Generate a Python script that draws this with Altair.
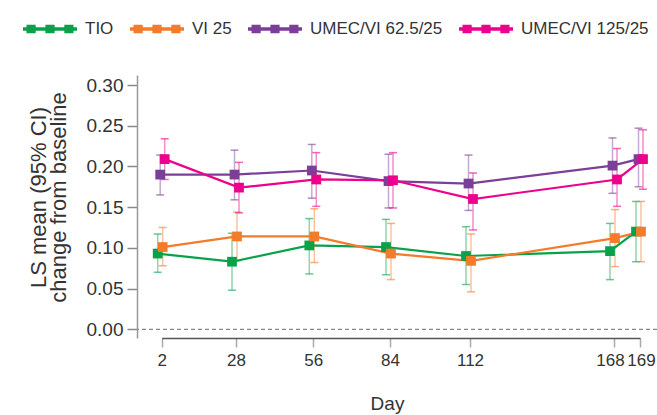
import altair as alt
import pandas as pd

# Visit days and treatment arms
days = [2, 28, 56, 84, 112, 168, 169]
series = ["TIO", "VI 25", "UMEC/VI 62.5/25", "UMEC/VI 125/25"]
colors = ["#0ba14b", "#f47b2a", "#7c3f98", "#ec008c"]

# LS mean change from baseline with 95% CI bounds, one list per arm
tio_mean = [0.093, 0.083, 0.103, 0.101, 0.090, 0.096, 0.120]
tio_lo = [0.070, 0.048, 0.068, 0.067, 0.055, 0.061, 0.083]
tio_hi = [0.117, 0.118, 0.136, 0.135, 0.126, 0.130, 0.157]

vi_mean = [0.101, 0.114, 0.114, 0.093, 0.084, 0.112, 0.120]
vi_lo = [0.078, 0.084, 0.082, 0.061, 0.046, 0.077, 0.083]
vi_hi = [0.125, 0.144, 0.148, 0.130, 0.117, 0.147, 0.157]

u62_mean = [0.190, 0.190, 0.195, 0.182, 0.179, 0.201, 0.209]
u62_lo = [0.165, 0.159, 0.161, 0.149, 0.146, 0.167, 0.175]
u62_hi = [0.214, 0.220, 0.227, 0.215, 0.214, 0.235, 0.247]

u125_mean = [0.209, 0.174, 0.184, 0.183, 0.160, 0.184, 0.209]
u125_lo = [0.184, 0.143, 0.151, 0.149, 0.122, 0.151, 0.172]
u125_hi = [0.234, 0.205, 0.217, 0.217, 0.192, 0.222, 0.245]

zero_line = [0.0]

arms = {
    "TIO": (tio_mean, tio_lo, tio_hi),
    "VI 25": (vi_mean, vi_lo, vi_hi),
    "UMEC/VI 62.5/25": (u62_mean, u62_lo, u62_hi),
    "UMEC/VI 125/25": (u125_mean, u125_lo, u125_hi),
}

rows = []
for name, (m, lo, hi) in arms.items():
    for d, a, b, c in zip(days, m, lo, hi):
        rows.append({"series": name, "day": d, "mean": a, "lo": b, "hi": c})
df = pd.DataFrame(rows)

# small horizontal dodge per arm so overlapping CIs stay readable
dodge = {"TIO": -4, "VI 25": 1, "UMEC/VI 62.5/25": -1.5, "UMEC/VI 125/25": 3}

SANS = "Liberation Sans, Arial, sans-serif"

W, H = 520, 263

# piecewise day axis: visits are not evenly spaced, day 169 sits just after 168
x_scale = alt.Scale(domain=days, range=[24.7, 99, 176.3, 253, 333, 477, 503],
                    zero=False, nice=False)
y_scale = alt.Scale(domain=[-0.0107, 0.3123], zero=False, nice=False)

x_axis = alt.Axis(values=days, title="Day", grid=False, labelFont=SANS,
                  labelFontSize=17, labelColor="#333", tickColor="#aaa",
                  tickSize=9, tickWidth=1.5, labelPadding=5, domainColor="#555",
                  domainWidth=1.5, titleFont=SANS, titleFontSize=19,
                  titleFontWeight="normal", titleColor="#333", titleX=250,
                  titleY=71, titleBaseline="alphabetic", labelFlush=False,
                  labelOverlap=False,
                  labelOffset={"condition": [{"test": "datum.value == 168", "value": -4},
                                             {"test": "datum.value == 169", "value": 1}],
                               "value": 0})
y_axis = alt.Axis(values=[0, 0.05, 0.10, 0.15, 0.20, 0.25, 0.30], format=".2f",
                  title=["LS mean (95% CI)", "change from baseline"], grid=False,
                  labelFont=SANS, labelFontSize=19, labelColor="#333",
                  tickColor="#888", tickSize=10, tickWidth=1.5, labelPadding=4,
                  domainColor="#999", domainWidth=1.5, titleFont=SANS,
                  titleFontSize=22, titleFontWeight="normal", titleColor="#333",
                  titleLineHeight=20, titleX=-87, titleY=122, titleAngle=270,
                  titleBaseline="bottom", titleAlign="center", labelFlush=False,
                  labelOverlap=False)

legend_symbol = ("M-1,-0.065 H1 V0.065 H-1 Z "
                 "M-0.87,-0.16 H-0.53 V0.16 H-0.87 Z "
                 "M-0.17,-0.16 H0.17 V0.16 H-0.17 Z "
                 "M0.53,-0.16 H0.87 V0.16 H0.53 Z")

legend = alt.Legend(orient="none", direction="horizontal", title=None,
                    legendX=-114, legendY=-73, symbolType=legend_symbol,
                    symbolSize=2916, symbolStrokeWidth=0, symbolOpacity=1,
                    labelFont=SANS, labelFontSize=17, labelColor="#333",
                    labelOffset=8, columnPadding=16)

color_scale = alt.Scale(domain=series, range=colors)
col = alt.Color("series:N", scale=color_scale, legend=legend)

x_enc = alt.X("day:Q", scale=x_scale, axis=x_axis)

zero = alt.Chart(pd.DataFrame({"v": zero_line})).mark_rule(
    strokeDash=[4, 3], color="#888", strokeWidth=1.2
).encode(y=alt.Y("v:Q", scale=y_scale, axis=y_axis))

bars, lines, points = [], [], []
for name in series:
    o = dodge[name]
    sub = alt.Chart(df).transform_filter(alt.datum.series == name)
    bars.append(sub.mark_rule(xOffset=o, strokeWidth=1.5, opacity=0.45).encode(
        x=x_enc, y=alt.Y("lo:Q", scale=y_scale, axis=y_axis), y2="hi:Q", color=col))
    for end in ["lo", "hi"]:
        bars.append(sub.mark_rule(xOffset=o - 4, x2Offset=o + 4, strokeWidth=1.5,
                                  opacity=0.6).encode(
            x=x_enc, x2="day:Q", y=alt.Y(f"{end}:Q", scale=y_scale, axis=y_axis),
            color=col))
    lines.append(sub.mark_line(xOffset=o, strokeWidth=2.2).encode(
        x=x_enc, y=alt.Y("mean:Q", scale=y_scale, axis=y_axis), color=col))
    points.append(sub.mark_point(shape="square", filled=True, size=95, opacity=1,
                                 xOffset=o).encode(
        x=x_enc, y=alt.Y("mean:Q", scale=y_scale, axis=y_axis), color=col))

chart = alt.layer(zero, *bars, *lines, *points).properties(
    width=W, height=H,
    autosize=alt.AutoSizeParams(type="none"),
    padding={"left": 137, "top": 75, "right": 0, "bottom": 77},
    background="white",
).configure_view(stroke=None)

chart.save("out.html", embed_options={"renderer": "svg", "actions": False})
